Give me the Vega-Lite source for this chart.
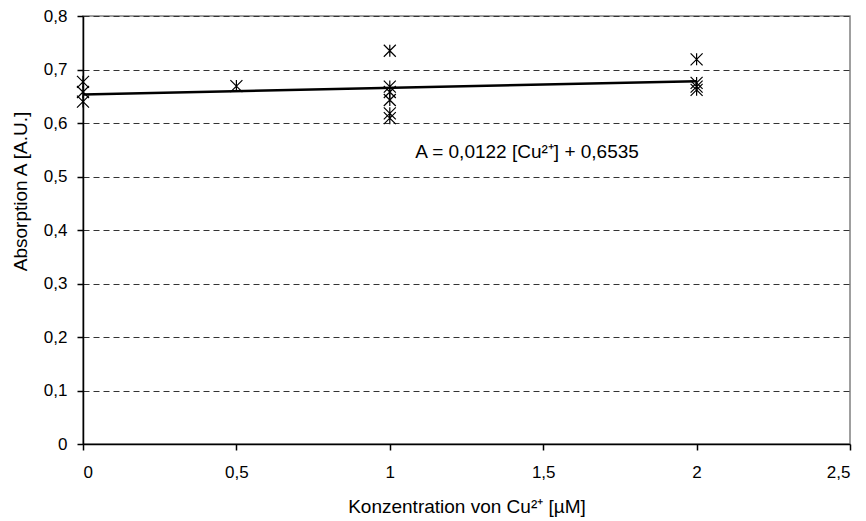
{
  "$schema": "https://vega.github.io/schema/vega-lite/v6.json",
  "width": 767,
  "height": 428,
  "autosize": {"type": "none"},
  "padding": {"left": 83, "top": 16, "right": 16, "bottom": 77},
  "background": "white",
  "config": {
    "font": "Liberation Sans",
    "view": {"stroke": "#808080", "strokeWidth": 1.5}
  },
  "datasets": {
    "pts": [
      {"c": 0, "a": 0.677}, {"c": 0, "a": 0.658}, {"c": 0, "a": 0.64},
      {"c": 0.5, "a": 0.669},
      {"c": 1, "a": 0.735}, {"c": 1, "a": 0.668}, {"c": 1, "a": 0.658}, {"c": 1, "a": 0.643}, {"c": 1, "a": 0.618}, {"c": 1, "a": 0.609},
      {"c": 2, "a": 0.719}, {"c": 2, "a": 0.675}, {"c": 2, "a": 0.668}, {"c": 2, "a": 0.662}
    ],
    "fit": [{"c": 0, "a": 0.6535}, {"c": 2, "a": 0.6779}],
    "lbl": [{"c": 1.083, "a": 0.545, "t": "A = 0,0122 [Cu²⁺] + 0,6535"}]
  },
  "layer": [
    {
      "data": {"name": "fit"},
      "mark": {"type": "line", "color": "black", "strokeWidth": 2.5},
      "encoding": {
        "x": {
          "field": "c", "type": "quantitative",
          "scale": {"domain": [0, 2.5], "nice": false},
          "axis": {
            "values": [0, 0.5, 1, 1.5, 2, 2.5],
            "labelExpr": "replace(format(datum.value, '~g'), '.', ',')",
            "grid": false,
            "title": "Konzentration von Cu²⁺ [µM]",
            "titlePadding": 17,
            "labelPadding": 14,
            "labelFont": "Liberation Sans",
            "titleFont": "Liberation Sans",
            "labelFontSize": 17,
            "titleFontSize": 19,
            "titleFontWeight": "normal",
            "labelColor": "black",
            "titleColor": "black",
            "domainColor": "black",
            "domainWidth": 1.5,
            "tickColor": "black",
            "tickWidth": 1.5,
            "tickSize": 6
          }
        },
        "y": {
          "field": "a", "type": "quantitative",
          "scale": {"domain": [0, 0.8], "nice": false},
          "axis": {
            "values": [0, 0.1, 0.2, 0.3, 0.4, 0.5, 0.6, 0.7, 0.8],
            "labelExpr": "replace(format(datum.value, '~g'), '.', ',')",
            "grid": true,
            "gridColor": "#333333",
            "gridDash": [6, 4],
            "gridWidth": 1,
            "title": "Absorption A  [A.U.]",
            "titlePadding": 13,
            "titleY": 175,
            "labelPadding": 10,
            "labelFont": "Liberation Sans",
            "titleFont": "Liberation Sans",
            "labelFontSize": 17,
            "titleFontSize": 19,
            "titleFontWeight": "normal",
            "labelColor": "black",
            "titleColor": "black",
            "domainColor": "black",
            "domainWidth": 1.5,
            "tickColor": "black",
            "tickWidth": 1.5,
            "tickSize": 6
          }
        }
      }
    },
    {
      "data": {"name": "pts"},
      "mark": {
        "type": "point",
        "shape": "M-1,-1L1,1M-1,1L1,-1M0,-1L0,1",
        "filled": false,
        "color": "black",
        "strokeWidth": 1.2,
        "size": 144,
        "opacity": 1
      },
      "encoding": {
        "x": {"field": "c", "type": "quantitative"},
        "y": {"field": "a", "type": "quantitative"}
      }
    },
    {
      "data": {"name": "lbl"},
      "mark": {"type": "text", "align": "left", "baseline": "middle", "fontSize": 19, "color": "black", "font": "Liberation Sans"},
      "encoding": {
        "x": {"field": "c", "type": "quantitative"},
        "y": {"field": "a", "type": "quantitative"},
        "text": {"field": "t"}
      }
    }
  ]
}
